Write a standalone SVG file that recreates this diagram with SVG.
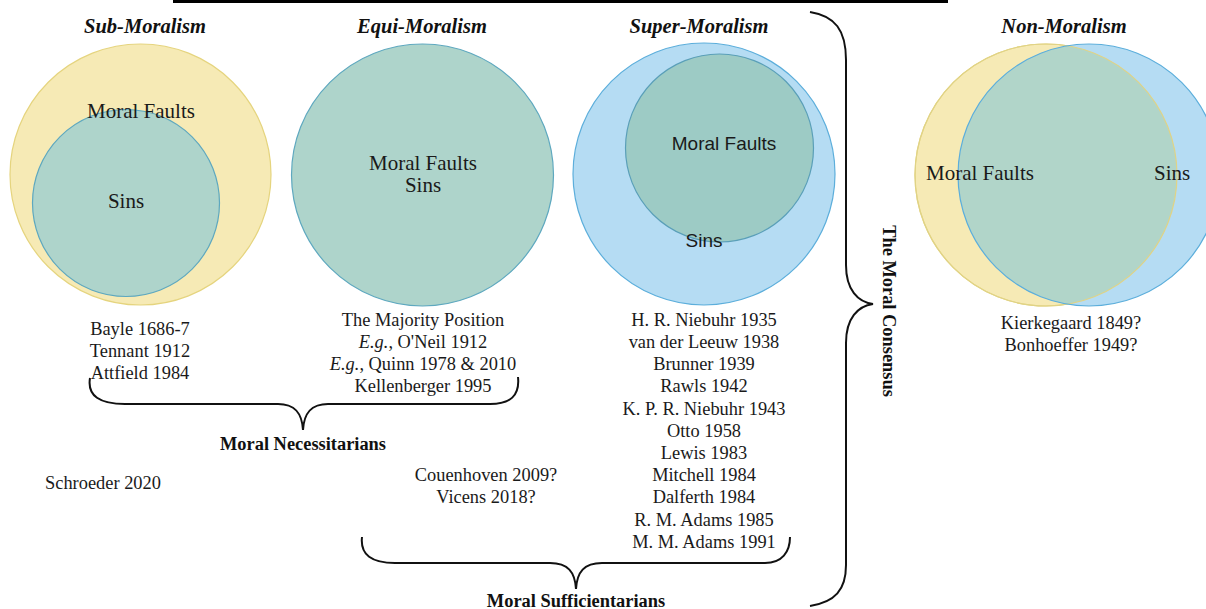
<svg xmlns="http://www.w3.org/2000/svg" width="1206" height="609" viewBox="0 0 1206 609">
<defs>
<style>
.title{font-family:"Liberation Serif",serif;font-weight:bold;font-style:italic;font-size:20.5px;fill:#111;text-anchor:middle}
.lbl{font-family:"Liberation Serif",serif;font-size:21px;fill:#1a1a1a}
.lbls{font-family:"Liberation Sans",sans-serif;font-size:19px;fill:#1a1a1a}
.list{font-family:"Liberation Serif",serif;font-size:18.4px;fill:#1a1a1a;text-anchor:middle}
.grp{font-family:"Liberation Serif",serif;font-weight:bold;font-size:18.4px;fill:#111;text-anchor:middle}
.yel{fill:#f6eab5;stroke:#e5d47e;stroke-width:1.2}
.teal{fill:#aed4cb;stroke:#5ea8bf;stroke-width:1.2}
.blue{fill:#b5dcf3;stroke:#5caedb;stroke-width:1.2}
.teal2{fill:#9dcbc5;stroke:#5a9fb8;stroke-width:1.2}
.brace{fill:none;stroke:#111;stroke-width:2}
</style>
<clipPath id="clipYel"><circle cx="1046" cy="175" r="131"/></clipPath>
</defs>
<rect x="173" y="0" width="775" height="3" fill="#000"/>

<g id="sub-moralism">
<text class="title" x="145" y="33">Sub-Moralism</text>
<circle class="yel" cx="140.5" cy="174.5" r="130.5"/>
<circle class="teal" cx="126" cy="203" r="93.5"/>
<text class="lbl" x="141" y="118" text-anchor="middle">Moral Faults</text>
<text class="lbl" x="126" y="208" text-anchor="middle">Sins</text>
</g>

<g id="equi-moralism">
<text class="title" x="422" y="33">Equi-Moralism</text>
<circle class="teal" cx="422.5" cy="175" r="131"/>
<text class="lbl" x="423" y="170" text-anchor="middle">Moral Faults</text>
<text class="lbl" x="423" y="192" text-anchor="middle">Sins</text>
</g>

<g id="super-moralism">
<text class="title" x="699" y="33">Super-Moralism</text>
<circle class="blue" cx="704" cy="174" r="131"/>
<circle class="teal2" cx="719.5" cy="148" r="94"/>
<text class="lbls" x="724" y="150" text-anchor="middle">Moral Faults</text>
<text class="lbls" x="704" y="247" text-anchor="middle">Sins</text>
</g>

<g id="non-moralism">
<text class="title" x="1064" y="33">Non-Moralism</text>
<circle class="yel" cx="1046" cy="175" r="131"/>
<circle cx="1089" cy="175" r="131" fill="#b5dcf3"/>
<circle cx="1089" cy="175" r="131" fill="#b1d5c9" clip-path="url(#clipYel)"/>
<circle cx="1046" cy="175" r="131" fill="none" stroke="#e0d386" stroke-width="1.2"/>
<circle cx="1089" cy="175" r="131" fill="none" stroke="#5caedb" stroke-width="1.2"/>
<text class="lbl" x="926" y="180">Moral Faults</text>
<text class="lbl" x="1154" y="180">Sins</text>
</g>

<g id="sub-list">
<text class="list" x="140" y="335">Bayle 1686-7</text>
<text class="list" x="140" y="357">Tennant 1912</text>
<text class="list" x="140" y="379">Attfield 1984</text>
</g>

<g id="equi-list">
<text class="list" x="423" y="326">The Majority Position</text>
<text class="list" x="423" y="348"><tspan font-style="italic">E.g.</tspan>, O'Neil 1912</text>
<text class="list" x="423" y="370"><tspan font-style="italic">E.g.</tspan>, Quinn 1978 &amp; 2010</text>
<text class="list" x="423" y="392">Kellenberger 1995</text>
</g>

<g id="super-list">
<text class="list" x="704" y="326">H. R. Niebuhr 1935</text>
<text class="list" x="704" y="348">van der Leeuw 1938</text>
<text class="list" x="704" y="370">Brunner 1939</text>
<text class="list" x="704" y="392">Rawls 1942</text>
<text class="list" x="704" y="415">K. P. R. Niebuhr 1943</text>
<text class="list" x="704" y="437">Otto 1958</text>
<text class="list" x="704" y="459">Lewis 1983</text>
<text class="list" x="704" y="481">Mitchell 1984</text>
<text class="list" x="704" y="503">Dalferth 1984</text>
<text class="list" x="704" y="526">R. M. Adams 1985</text>
<text class="list" x="704" y="548">M. M. Adams 1991</text>
</g>

<g id="non-list">
<text class="list" x="1071" y="329">Kierkegaard 1849?</text>
<text class="list" x="1071" y="351">Bonhoeffer 1949?</text>
</g>

<g id="schroeder">
<text class="list" x="103" y="489">Schroeder 2020</text>
</g>

<g id="couenhoven">
<text class="list" x="486" y="481">Couenhoven 2009?</text>
<text class="list" x="486" y="503">Vicens 2018?</text>
</g>

<g id="connectors">
<path class="brace" d="M 90 378 C 87 396, 100 404, 125 404 L 278 404 C 295 404, 302 413, 303 430 C 304 413, 311 404, 328 404 L 490 404 C 510 404, 520 396, 518 377"/>
<path class="brace" d="M 362 537 C 360 555, 372 563, 395 563 L 550 563 C 568 563, 575 572, 576 589 C 577 572, 584 563, 602 563 L 765 563 C 782 563, 790 552, 790 537"/>
<path class="brace" d="M 810 12 C 835 16, 846 30, 846 60 L 846 265 C 846 290, 858 302, 873 304 C 858 306, 846 318, 846 343 L 846 565 C 846 590, 835 602, 810 606"/>
</g>

<g id="group-labels">
<text class="grp" x="303" y="450">Moral Necessitarians</text>
<text class="grp" x="576" y="607">Moral Sufficientarians</text>
<text class="grp" font-size="23px" transform="translate(883,311) rotate(90)">The Moral Consensus</text>
</g>
</svg>
